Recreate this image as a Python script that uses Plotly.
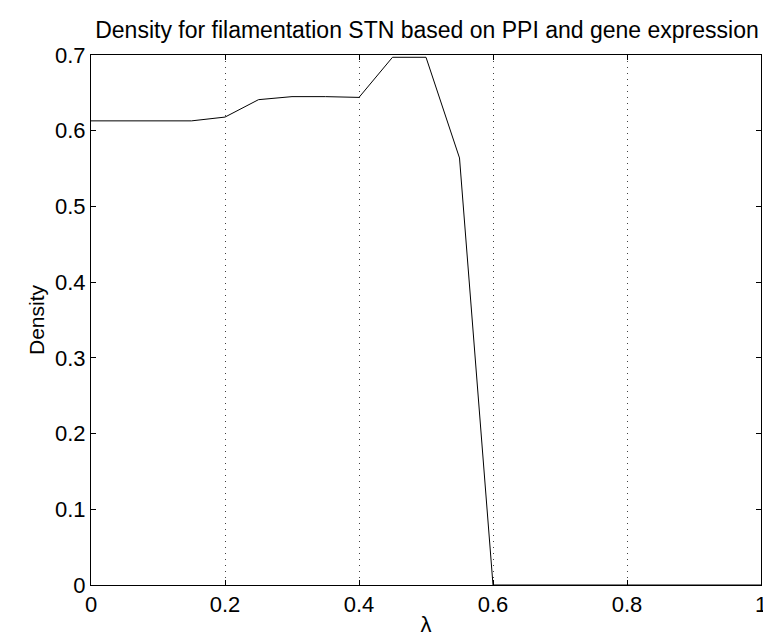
import plotly.graph_objects as go

lam = [0.0, 0.05, 0.10, 0.15, 0.20, 0.25, 0.30, 0.35, 0.40, 0.45, 0.50, 0.55, 0.60,
       0.65, 0.70, 0.75, 0.80, 0.85, 0.90, 0.95, 1.0]
density = [0.613, 0.613, 0.613, 0.613, 0.618, 0.641, 0.645, 0.645, 0.644, 0.697, 0.697, 0.564, 0.0,
           0.0, 0.0, 0.0, 0.0, 0.0, 0.0, 0.0, 0.0]
x_ticks = [0, 0.2, 0.4, 0.6, 0.8, 1]
x_tick_text = ["0", "0.2", "0.4", "0.6", "0.8", "1"]
y_ticks = [0, 0.1, 0.2, 0.3, 0.4, 0.5, 0.6, 0.7]
y_tick_text = ["0", "0.1", "0.2", "0.3", "0.4", "0.5", "0.6", "0.7"]

FONT = "Liberation Sans, Arial, Helvetica, sans-serif"
L, R, T, B = 83, 755, 47, 579
W, H = 771, 637

fig = go.Figure()
fig.add_trace(go.Scatter(x=lam, y=density, mode="lines",
                         line=dict(color="black", width=1), showlegend=False,
                         cliponaxis=True))

fig.update_layout(
    width=W, height=H,
    margin=dict(l=L, r=W - R, t=T, b=H - B),
    paper_bgcolor="white", plot_bgcolor="white",
    font=dict(family=FONT, size=22, color="black"),
    title=dict(text="Density for filamentation STN based on PPI and gene expression",
               x=(L + R) / 2 / W, xanchor="center",
               y=1 - 22 / H, yanchor="middle", yref="container",
               font=dict(family=FONT, size=23, color="black")),
)
fig.update_xaxes(
    range=[0, 1], tickvals=x_ticks, ticktext=x_tick_text,
    showline=True, linecolor="black", linewidth=1, mirror="ticks",
    ticks="inside", ticklen=5, tickcolor="black",
    showgrid=True, gridcolor="rgba(0,0,0,0.75)", gridwidth=1, griddash="1px,5px",
    zeroline=False, tickfont=dict(size=22),
    title=dict(text="λ", standoff=0, font=dict(size=22)),
)
fig.update_yaxes(
    range=[0, 0.7], tickvals=y_ticks, ticktext=y_tick_text,
    showline=True, linecolor="black", linewidth=1, mirror="ticks",
    ticks="inside", ticklen=5, tickcolor="black",
    showgrid=False, zeroline=False, tickfont=dict(size=22),
    title=dict(text="Density", standoff=4, font=dict(size=21)),
)

fig.write_html("out.html")
